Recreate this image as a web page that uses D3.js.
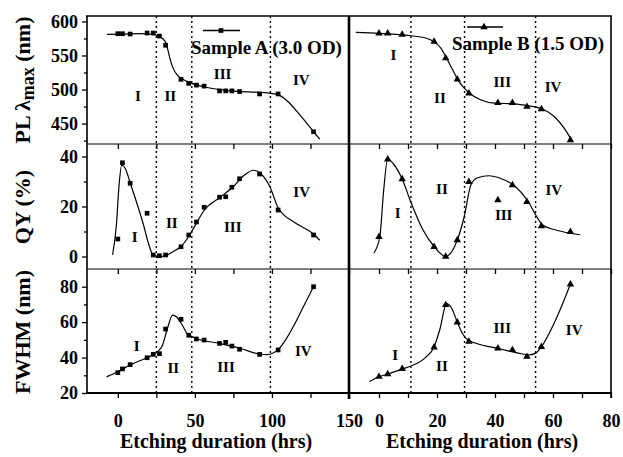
<!DOCTYPE html>
<html>
<head>
<meta charset="utf-8">
<script src="https://cdn.jsdelivr.net/npm/d3@7"></script>
<style>
  body { margin: 0; background: #fff; }
  svg text { font-family: "Liberation Serif", "Times New Roman", serif; font-weight: bold; fill: #000; }
  .tick line { stroke: #000; stroke-width: 1.3; }
</style>
</head>
<body>
<svg id="chart" width="623" height="457"></svg>
<script>
// ---- Sample A (3.0 OD), etching time in hrs
var timeA = [0, 3, 8, 19, 23, 27, 31, 41, 46, 51, 56, 66, 70, 74, 79, 92, 104, 127];
var plA   = [582, 582, 581.5, 583, 583, 578.5, 565, 515, 509, 506.5, 505, 498, 498, 498, 497, 493.5, 493.5, 438];
var qyA   = [7, 37.5, 29.3, 17.3, 0.6, 0.3, 0.6, 3.9, 8.6, 13.8, 19.7, 23.7, 23.9, 27.7, 31.1, 33, 18.6, 8.6];
var fwA   = [31.5, 33.6, 36, 39.9, 41.8, 42.2, 56.1, 61.6, 52.6, 50.5, 49.9, 48, 48.6, 46.5, 44.7, 41.8, 44.3, 80];

// ---- Sample B (1.5 OD)
var timeB = [0, 3, 8, 19, 23, 27, 31, 41, 46, 51, 56, 66];
var plB   = [582.6, 582.6, 580.6, 570.3, 546, 515, 494.4, 480.6, 480.6, 474.8, 471.4, 425.8];
var qyB   = [7.9, 38.9, 31, 3.9, 0, 6.6, 29.9, 22.6, 28.6, 21.9, 12.2, 9.9];
var fwB   = [29.2, 30.7, 33.6, 45.8, 69.7, 59.9, 49, 45.2, 44.3, 40.5, 46.1, 81.4];

// ---- smooth guide curves [time, value]
var plCurveA = [[-7,581],[5,581.5],[15,582],[22,581],[26,579],[29,575],[31.5,567],[33.2,551],[35.4,534],[38.6,521],[45,512],[58,503],[71,498.5],[85,496.5],[97,495],[104,492.5],[111,481],[118,463],[127,438],[131,427]];
var plCurveB = [[-8,584],[0,582.6],[11,579],[16.6,575],[19,570],[21.4,560.5],[23.3,546],[25.4,529],[27.1,515],[29.4,502],[31.2,494.5],[35.2,484.6],[39.8,480],[46.7,479],[51.6,476],[56.4,471.4],[60.5,460],[63.9,443],[66.4,426]];
var qyCurveA = [[-3.4,0.7],[-1,12],[1,30],[2.5,36.5],[5,35],[8,29.5],[12,22],[16.5,13],[20,5],[22.7,0.8],[27,0],[31.6,0.5],[36,2],[41,4],[46,8],[51,13.3],[56,18.5],[66,23.5],[75,28],[82,32.5],[88,34.5],[93,33],[98.6,28],[104,19.5],[115,13.5],[127,9],[131,6.5]];
var qyCurveB = [[-1.8,1.3],[0.3,8],[1.5,25],[3,39],[5,37],[8,31],[11,21.7],[15,11],[19,4],[23,0],[27,6.6],[29.4,16],[31.7,28.7],[34,31.5],[37.9,32.3],[42,31.2],[46.2,28.7],[51.4,22],[54,16.7],[56.3,12.7],[61.6,10.4],[69.4,8.7]];
var fwCurveA = [[-7.3,29.1],[0,32],[8,35.8],[19,40],[25,42.8],[29,47],[32,56],[35.6,64],[38,63],[41,59.5],[45,53.6],[51,50.8],[66,48],[80,45],[92,42],[97,41.7],[104,44.5],[109.6,51],[113.9,57.5],[120.4,68.7],[127,80]];
var fwCurveB = [[-3.3,26.5],[0,29.2],[3,30.7],[8,33.5],[11,35.2],[16,40],[19,46],[21,56],[23.3,70.4],[25,68],[27,60],[29,53],[31,49.6],[41,45.2],[48,42.5],[51.6,41.5],[54,42.5],[56,46],[60,58],[66,81.4]];

// stage boundaries (hrs) and stage names
var stageA = [25, 48, 99];
var stageB = [11, 29.5, 54];
var stages = ["I", "II", "III", "IV"];

// where the stage names sit, [time, value]
var stagePosPLA = [[13,490],[34,490],[68,523],[119,514]];
var stagePosPLB = [[5,551],[21,487],[42.5,511.5],[60,503]];
var stagePosQYA = [[11,7.9],[35,13.3],[74.6,11.7],[119.3,25.9]];
var stagePosQYB = [[6.4,17.5],[21.7,26.9],[43,16.6],[60.3,26.6]];
var stagePosFWA = [[12.3,46.6],[36,33.9],[70.2,34.5],[120.4,43.9]];
var stagePosFWB = [[5.6,41.5],[21.7,35.2],[42.5,56.5],[67.3,55.6]];

var sampleNames = ["Sample A (3.0 OD)", "Sample B (1.5 OD)"];
var yTitles = ["QY (%)", "FWHM (nm)"];
var xTitle = "Etching duration (hrs)";

var svg = d3.select("#chart");
var top_y = 16, bottom_y = 393;

// x scales
var xA = d3.scaleLinear().domain([-20, 150]).range([87, 349]);
var xB = d3.scaleLinear().domain([-10, 80]).range([350, 611]);

// y scales, one per row
var yPL = d3.scaleLinear().domain([420, 608]).range([144, 16]);
var yQY = d3.scaleLinear().domain([-5, 45]).range([269, 144]);
var yFW = d3.scaleLinear().domain([20, 90]).range([393, 269]);

var rows = [
  { y: yPL, a: plA, b: plB, ca: plCurveA, cb: plCurveB, la: stagePosPLA, lb: stagePosPLB,
    major: [450, 500, 550, 600], minor: [425, 475, 525, 575] },
  { y: yQY, a: qyA, b: qyB, ca: qyCurveA, cb: qyCurveB, la: stagePosQYA, lb: stagePosQYB,
    major: [0, 20, 40], minor: [10, 30] },
  { y: yFW, a: fwA, b: fwB, ca: fwCurveA, cb: fwCurveB, la: stagePosFWA, lb: stagePosFWB,
    major: [20, 40, 60, 80], minor: [30, 50, 70] }
];

// dotted stage boundaries
stageA.forEach(function(t) {
  svg.append("line").attr("x1", xA(t)).attr("x2", xA(t)).attr("y1", top_y).attr("y2", bottom_y)
    .attr("stroke", "#000").attr("stroke-width", 1.4).attr("stroke-dasharray", "2,3");
});
stageB.forEach(function(t) {
  svg.append("line").attr("x1", xB(t)).attr("x2", xB(t)).attr("y1", top_y).attr("y2", bottom_y)
    .attr("stroke", "#000").attr("stroke-width", 1.4).attr("stroke-dasharray", "2,3");
});

var sq = d3.symbol().type(d3.symbolSquare).size(22);
var tri = d3.symbol().type(d3.symbolTriangle).size(24);

rows.forEach(function(r, i) {
  var lineA = d3.line().x(function(d) { return xA(d[0]); }).y(function(d) { return r.y(d[1]); }).curve(d3.curveMonotoneX);
  var lineB = d3.line().x(function(d) { return xB(d[0]); }).y(function(d) { return r.y(d[1]); }).curve(d3.curveMonotoneX);

  svg.append("path").attr("d", lineA(r.ca)).attr("fill", "none").attr("stroke", "#000").attr("stroke-width", 1.2);
  svg.append("path").attr("d", lineB(r.cb)).attr("fill", "none").attr("stroke", "#000").attr("stroke-width", 1.2);

  svg.selectAll(null).data(r.a).enter().append("path")
    .attr("d", sq)
    .attr("transform", function(d, k) { return "translate(" + xA(timeA[k]) + "," + r.y(d) + ")"; });
  svg.selectAll(null).data(r.b).enter().append("path")
    .attr("d", tri)
    .attr("transform", function(d, k) { return "translate(" + xB(timeB[k]) + "," + r.y(d) + ")"; });

  // stage names
  r.la.forEach(function(p, k) {
    svg.append("text").attr("x", xA(p[0])).attr("y", r.y(p[1]) + 5)
      .attr("text-anchor", "middle").style("font-size", "15px").text(stages[k]);
  });
  r.lb.forEach(function(p, k) {
    svg.append("text").attr("x", xB(p[0])).attr("y", r.y(p[1]) + 5)
      .attr("text-anchor", "middle").style("font-size", "15px").text(stages[k]);
  });

  // y axis (left only)
  var ya = svg.append("g").attr("transform", "translate(87,0)")
    .call(d3.axisLeft(r.y).tickValues(r.major).tickSize(5).tickPadding(4));
  ya.select(".domain").remove();
  ya.selectAll("text").style("font-size", "18px");
  var ym = svg.append("g").attr("transform", "translate(87,0)")
    .call(d3.axisLeft(r.y).tickValues(r.minor).tickSize(3).tickFormat(""));
  ym.select(".domain").remove();

  // x ticks along bottom of each row
  var yb = r.y.range()[0];
  var last = (i === rows.length - 1);
  var xa = svg.append("g").attr("transform", "translate(0," + yb + ")")
    .call(d3.axisBottom(xA).tickValues([0, 25, 50, 75, 100, 125, 150]).tickSize(5).tickPadding(16)
      .tickFormat(function(d) { return (last && d % 50 === 0) ? d : ""; }));
  xa.select(".domain").remove();
  var xb = svg.append("g").attr("transform", "translate(0," + yb + ")")
    .call(d3.axisBottom(xB).tickValues([0, 10, 20, 30, 40, 50, 60, 70, 80]).tickSize(5).tickPadding(16)
      .tickFormat(function(d) { return (last && d % 20 === 0) ? d : ""; }));
  xb.select(".domain").remove();
  xa.selectAll("text").style("font-size", "18px");
  xb.selectAll("text").style("font-size", "18px");
});

// frames
function hline(y, x1, x2, w) {
  svg.append("line").attr("x1", x1).attr("x2", x2).attr("y1", y).attr("y2", y).attr("stroke", "#000").attr("stroke-width", w);
}
function vline(x, y1, y2, w) {
  svg.append("line").attr("x1", x).attr("x2", x).attr("y1", y1).attr("y2", y2).attr("stroke", "#000").attr("stroke-width", w);
}
hline(top_y, 86, 612, 1.6);
hline(144, 87, 611, 1.2);
hline(269, 87, 611, 1.2);
hline(bottom_y, 86, 612, 2);
vline(87, top_y, bottom_y, 1.6);
vline(611, top_y, bottom_y + 5, 1.6);
vline(349, top_y, bottom_y + 6, 2.6);

// legends
hline(30.5, 203, 240, 1.3);
svg.append("path").attr("d", sq).attr("transform", "translate(221,30.5)");
svg.append("text").attr("x", 191).attr("y", 54).style("font-size", "19px").text(sampleNames[0]);
hline(27, 467, 503, 1.3);
svg.append("path").attr("d", tri).attr("transform", "translate(484,27)");
svg.append("text").attr("x", 452).attr("y", 50).style("font-size", "19px").text(sampleNames[1]);

// axis titles
var plTitle = svg.append("text").attr("transform", "translate(30,80) rotate(-90)")
  .attr("text-anchor", "middle").style("font-size", "22px");
plTitle.append("tspan").text("PL λ");
plTitle.append("tspan").text("max").style("font-size", "18px").attr("dy", 4);
plTitle.append("tspan").text(" (nm)").attr("dy", -4);

svg.append("text").attr("transform", "translate(30,207) rotate(-90)")
  .attr("text-anchor", "middle").style("font-size", "22px").text(yTitles[0]);
svg.append("text").attr("transform", "translate(30,332) rotate(-90)")
  .attr("text-anchor", "middle").style("font-size", "22px").text(yTitles[1]);

svg.append("text").attr("x", 216).attr("y", 448).attr("text-anchor", "middle").style("font-size", "20px").text(xTitle);
svg.append("text").attr("x", 482).attr("y", 448).attr("text-anchor", "middle").style("font-size", "20px").text(xTitle);
</script>
</body>
</html>
